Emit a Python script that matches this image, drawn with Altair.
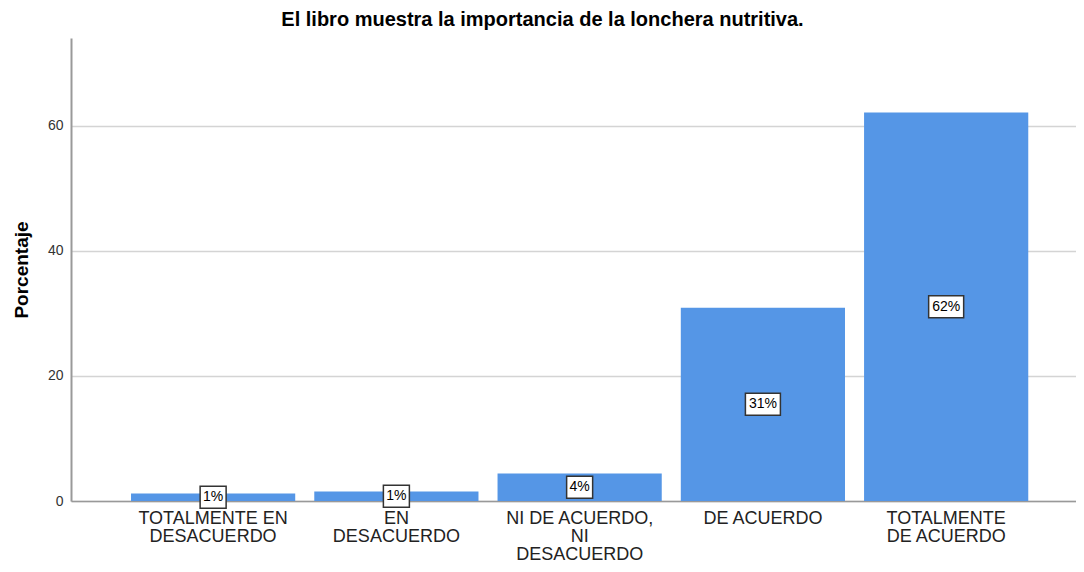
import altair as alt
import pandas as pd

categories = [
    "TOTALMENTE EN DESACUERDO",
    "EN DESACUERDO",
    "NI DE ACUERDO, NI DESACUERDO",
    "DE ACUERDO",
    "TOTALMENTE DE ACUERDO",
]
label_lines = [
    ["TOTALMENTE EN", "DESACUERDO"],
    ["EN", "DESACUERDO"],
    ["NI DE ACUERDO,", "NI", "DESACUERDO"],
    ["DE ACUERDO"],
    ["TOTALMENTE", "DE ACUERDO"],
]
percent = [1.2, 1.5, 4.4, 30.9, 62.1]
percent_text = ["1%", "1%", "4%", "31%", "62%"]
y_ticks = [0, 20, 40, 60]

df = pd.DataFrame({"cat": categories, "pct": percent, "txt": percent_text})
df["half"] = df["pct"] / 2

# label expression: multi-line labels
expr = "''"
for c, lines in reversed(list(zip(categories, label_lines))):
    arr = "[" + ",".join("'" + l + "'" for l in lines) + "]"
    expr = f"datum.label === '{c}' ? {arr} : ({expr})"

FONT = "Liberation Sans"

x_enc = alt.X(
    "cat:N",
    sort=categories,
    scale=alt.Scale(paddingInner=0.104, paddingOuter=0.294, align=0.557),
    axis=alt.Axis(
        title=None,
        labelAngle=0,
        labelExpr=expr,
        labelFont=FONT,
        labelFontSize=18,
        labelLineHeight=18,
        labelColor="#222222",
        labelPadding=8,
        labelBaseline="top",
        ticks=False,
        domainColor="#999999",
        domainWidth=1.5,
        grid=False,
    ),
)

bars = alt.Chart(df).mark_bar(color="#5596e6").encode(
    x=x_enc,
    y=alt.Y(
        "pct:Q",
        scale=alt.Scale(domain=[0, 74], nice=False),
        axis=alt.Axis(
            title="Porcentaje",
            titleFont=FONT,
            titleFontSize=19,
            titleFontWeight="bold",
            titleColor="#000000",
            titlePadding=16,
            values=y_ticks,
            labelFont=FONT,
            labelFontSize=14,
            labelColor="#333333",
            labelPadding=8,
            ticks=False,
            domainColor="#999999",
            domainWidth=2,
            gridColor="#d4d4d4",
            gridWidth=1.5,
        ),
    ),
)

narrow = "M -1.3 -1.1 L 1.3 -1.1 L 1.3 1.1 L -1.3 1.1 Z"
wide = "M -1.75 -1.1 L 1.75 -1.1 L 1.75 1.1 L -1.75 1.1 Z"

box_n = alt.Chart(df).transform_filter(alt.datum.pct < 10).mark_point(
    shape=narrow, size=400, filled=True, fill="white", stroke="#333333",
    strokeWidth=1.5, opacity=1,
).encode(x=alt.X("cat:N", sort=categories), y="half:Q")

box_w = alt.Chart(df).transform_filter(alt.datum.pct >= 10).mark_point(
    shape=wide, size=400, filled=True, fill="white", stroke="#333333",
    strokeWidth=1.5, opacity=1,
).encode(x=alt.X("cat:N", sort=categories), y="half:Q")

texts = alt.Chart(df).mark_text(
    font=FONT, fontSize=14, color="#000000", baseline="middle", align="center"
).encode(x=alt.X("cat:N", sort=categories), y="half:Q", text="txt:N")

chart = alt.layer(bars, box_n, box_w, texts).properties(
    width=1005,
    height=463,
    padding={"left": 63, "top": 30, "right": 0, "bottom": 63},
    autosize=alt.AutoSizeParams(type="none"),
    background="white",
    title=alt.TitleParams(
        "El libro muestra la importancia de la lonchera nutritiva.",
        font=FONT,
        fontSize=20,
        fontWeight="bold",
        color="#000000",
        anchor="middle",
        dx=-31,
        offset=8,
    ),
).configure_view(stroke=None)

chart.save("out.html", embed_options={"renderer": "svg", "actions": False})
